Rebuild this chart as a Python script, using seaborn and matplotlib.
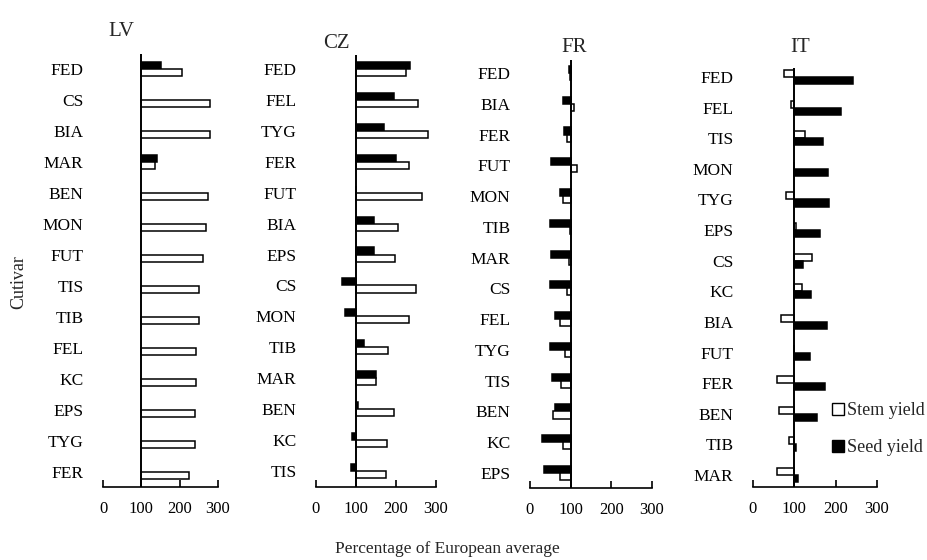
import numpy as np
import pandas as pd
import matplotlib
matplotlib.use("Agg")
import matplotlib.pyplot as plt
import seaborn as sns
from matplotlib.lines import Line2D

sns.set_theme(style="white")
plt.rcParams['font.family'] = ['Liberation Serif', 'DejaVu Serif']

# ---- data (percentage of European average) ----
lv_cultivars = ["FED", "CS", "BIA", "MAR", "BEN", "MON", "FUT", "TIS", "TIB", "FEL", "KC", "EPS", "TYG", "FER"]
lv_stem = [206, 280, 278, 136, 274, 270, 261, 250, 250, 243, 243, 241, 241, 224]
lv_seed = [151, np.nan, np.nan, 142, np.nan, np.nan, np.nan, np.nan, np.nan, np.nan, np.nan, np.nan, np.nan, np.nan]

cz_cultivars = ["FED", "FEL", "TYG", "FER", "FUT", "BIA", "EPS", "CS", "MON", "TIB", "MAR", "BEN", "KC", "TIS"]
cz_stem = [225, 256, 279, 232, 265, 206, 198, 251, 232, 180, 151, 194, 177, 174]
cz_seed = [234, 196, 169, 199, 100, 146, 145, 64, 72, 121, 150, 106, 89, 87]

fr_cultivars = ["FED", "BIA", "FER", "FUT", "MON", "TIB", "MAR", "CS", "FEL", "TYG", "TIS", "BEN", "KC", "EPS"]
fr_stem = [98, 109, 92, 116, 80, 98, 95, 90, 73, 86, 77, 57, 80, 74]
fr_seed = [97, 82, 84, 52, 75, 50, 52, 48, 62, 48, 53, 62, 30, 34]

it_cultivars = ["FED", "FEL", "TIS", "MON", "TYG", "EPS", "CS", "KC", "BIA", "FUT", "FER", "BEN", "TIB", "MAR"]
it_stem = [75, 92, 127, 100, 81, 104, 142, 118, 68, 100, 59, 64, 88, 59]
it_seed = [241, 214, 169, 181, 184, 161, 121, 140, 178, 138, 174, 156, 105, 108]

countries = ["LV", "CZ", "FR", "IT"]
x_ticks = [0, 100, 200, 300]
BASE = 100

panels = {
    "LV": (lv_cultivars, lv_stem, lv_seed, ["Seed yield", "Stem yield"]),
    "CZ": (cz_cultivars, cz_stem, cz_seed, ["Seed yield", "Stem yield"]),
    "FR": (fr_cultivars, fr_stem, fr_seed, ["Seed yield", "Stem yield"]),
    "IT": (it_cultivars, it_stem, it_seed, ["Stem yield", "Seed yield"]),
}

# layout in pixels: (x of 0, x of 300, top of line, bottom axis, first centre, last centre)
W, H = 928, 560
layout = {
    "LV": (103, 218, 54, 487, 69, 472),
    "CZ": (316, 436, 55, 487, 69, 471),
    "FR": (530, 652, 60, 488, 73, 473),
    "IT": (753, 877, 68, 487, 77, 475),
}
title_pos = {"LV": (121, 32), "CZ": (336, 43), "FR": (574, 48), "IT": (800, 47)}

fig = plt.figure(figsize=(W / 100, H / 100), dpi=100)
palette = {"Stem yield": "white", "Seed yield": "black"}

for c in countries:
    cults, stem, seed, order = panels[c]
    x0, x3, top, bot, c0, cN = layout[c]
    df = pd.DataFrame({
        "cultivar": cults * 2,
        "trait": ["Stem yield"] * len(cults) + ["Seed yield"] * len(cults),
        "value": list(stem) + list(seed),
    })
    df["rel"] = df["value"] - BASE
    df = df.dropna()
    ax = fig.add_axes([x0 / W, 1 - bot / H, (x3 - x0) / W, (bot - top) / H])
    sns.barplot(data=df, y="cultivar", x="rel", hue="trait", hue_order=order,
                order=cults, orient="h", palette=palette, edgecolor="black",
                linewidth=1.1, width=0.46, ax=ax, legend=False, errorbar=None)
    sp = (cN - c0) / (len(cults) - 1)
    ax.set_ylim(len(cults) - 1 + (bot - cN) / sp, -(c0 - top) / sp)
    ax.set_xlim(x_ticks[0] - BASE, x_ticks[-1] - BASE)
    ax.axvline(0, color="black", lw=1.4, zorder=5)
    for s in ["top", "right", "left"]:
        ax.spines[s].set_visible(False)
    ax.spines["bottom"].set_linewidth(1.2)
    ax.spines["bottom"].set_color("black")
    ax.set_xticks([t - BASE for t in x_ticks])
    ax.set_xticklabels([str(t) for t in x_ticks])
    ax.tick_params(axis="x", bottom=True, direction="in", length=5, width=1.2, color="black",
                   labelsize=12, pad=10, labelcolor="black")
    ax.tick_params(axis="y", left=False, length=0, pad=14, labelsize=12.5, labelcolor="black")
    ax.set_xlabel("")
    ax.set_ylabel("")
    ax.grid(False)
    ax.patch.set_alpha(0)
    tx, ty = title_pos[c]
    fig.text(tx / W, 1 - ty / H, c, ha="center", va="center", fontsize=15)

fig.text(19 / W, 1 - 282 / H, "Cutivar", rotation=90, ha="center", va="center", fontsize=13)
fig.text(447 / W, 1 - 549 / H, "Percentage of European average", ha="center", va="center", fontsize=12.5)

handles = [Line2D([], [], marker="s", ls="none", markerfacecolor="white", markeredgecolor="black",
                  markersize=8, markeredgewidth=1),
           Line2D([], [], marker="s", ls="none", markerfacecolor="black", markeredgecolor="black",
                  markersize=8, markeredgewidth=1)]
fig.legend(handles, ["Stem yield", "Seed yield"], loc="upper left",
           bbox_to_anchor=(824 / W, 1 - 393 / H), frameon=False, fontsize=13,
           handlelength=0.6, handletextpad=0.2, labelspacing=1.1, borderpad=0)

fig.savefig("out.png", dpi=100)
